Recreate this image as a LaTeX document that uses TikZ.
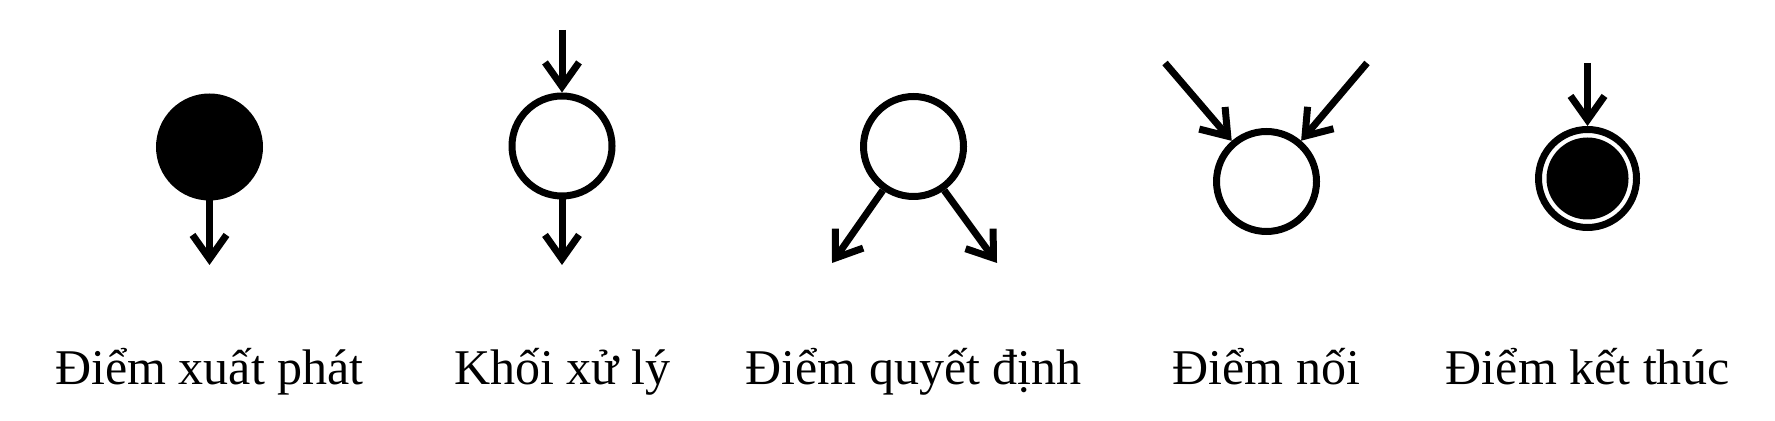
\documentclass[tikz,border=0pt]{standalone}
\usepackage{fontspec}
\setmainfont{Liberation Serif}
\usepackage{tikz}
\usetikzlibrary{positioning, shapes, arrows.meta}

\begin{document}
\begin{tikzpicture}[
    x=0.5pt, y=-0.5pt,
    every node/.style={align=center},
    dot/.style={circle, inner sep=0pt, minimum size=50pt, line width=3.5pt},
    label text/.style={anchor=base, font=\fontsize{25}{30}\selectfont},
    flow/.style={line width=3.5pt, -{Straight Barb[length=12pt, width=17pt]}}
  ]
    \useasboundingbox (0,0) rectangle (1775,421);

    \node[dot, draw, fill=black] (start) at (209.5,147) {};
    \coordinate (startout) at (209.5,265);
    \draw[flow] (start) -- (startout);

    \node[dot, draw] (proc) at (562,146) {};
    \coordinate (procin) at (562,30);
    \coordinate (procout) at (562,265);
    \draw[flow] (procin) -- (proc);
    \draw[flow] (proc) -- (procout);

    \node[dot, draw] (decide) at (913.5,146.5) {};
    \coordinate (decideleft) at (832,263);
    \coordinate (decideright) at (997,263);
    \draw[flow] (decide.235) -- (decideleft);
    \draw[flow] (decide.305) -- (decideright);

    \node[dot, draw] (merge) at (1266.5,181.5) {};
    \coordinate (mergeleft) at (1165,63);
    \coordinate (mergeright) at (1367,63);
    \draw[flow] (mergeleft) -- (merge);
    \draw[flow] (mergeright) -- (merge);

    \node[dot, draw, minimum size=49pt] (finish) at (1587.5,178.5) {};
    \node[circle, inner sep=0pt, minimum size=41pt, fill=black] (finishdot) at (finish) {};
    \coordinate (finishin) at (1587.5,63);
    \draw[flow] (finishin) -- (finish);

    \node[label text] (startlbl) at (209.5,385) {Điểm xuất phát};
    \node[label text] (proclbl) at (562,385) {Khối xử lý};
    \node[label text] (decidelbl) at (913.5,385) {Điểm quyết định};
    \node[label text] (mergelbl) at (1266.5,385) {Điểm nối};
    \node[label text] (finishlbl) at (1587.5,385) {Điểm kết thúc};
  \end{tikzpicture}
\end{document}
